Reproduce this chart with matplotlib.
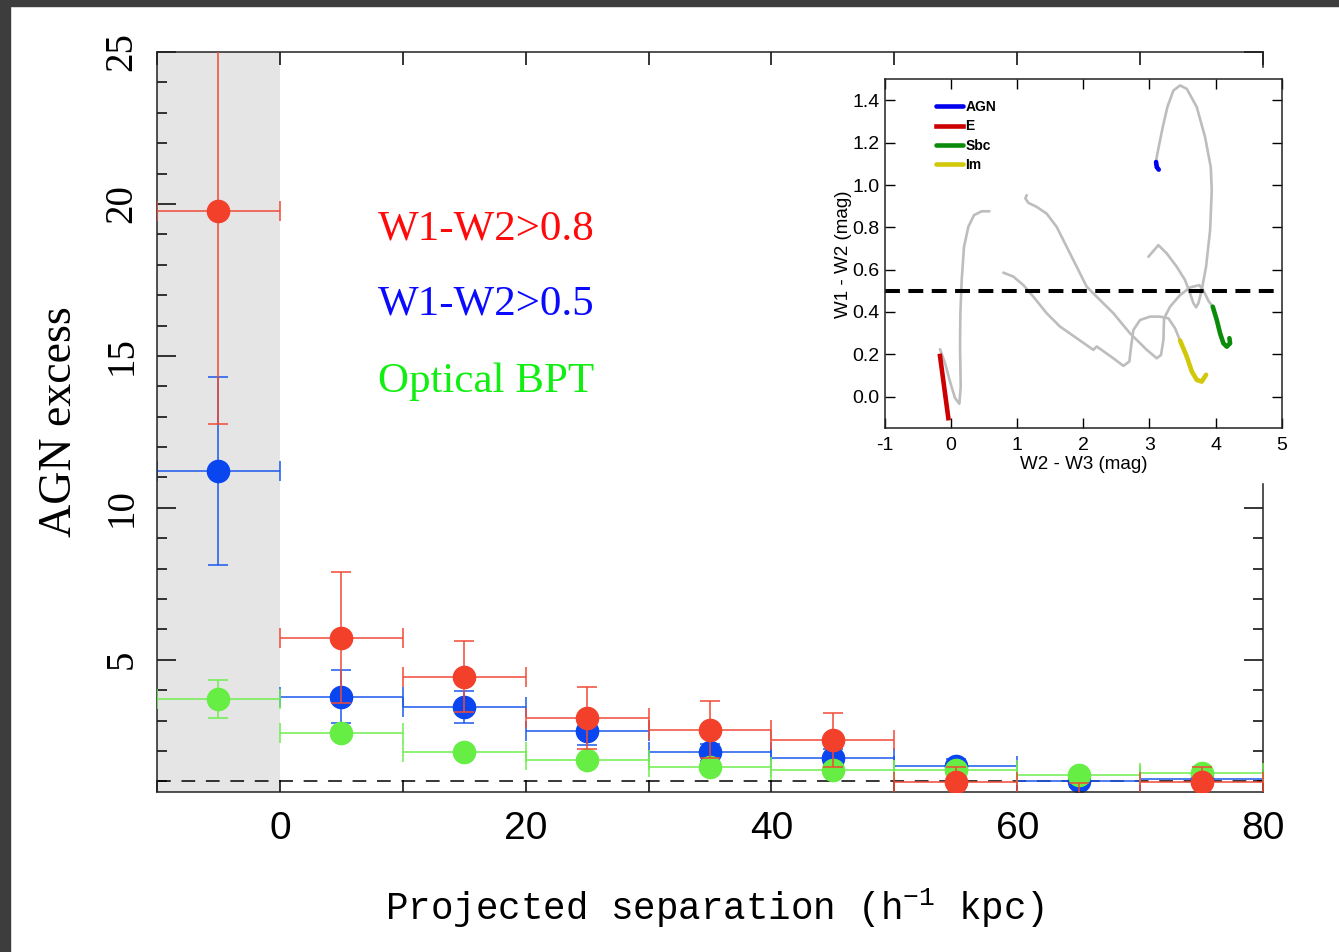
import numpy as np
import matplotlib
matplotlib.use("Agg")
import matplotlib.pyplot as plt
from matplotlib.patches import Rectangle

# main panel data (bin centres, AGN excess, errors)
sep = [-5, 5, 15, 25, 35, 45, 55, 65, 75]
bin_half = 5
red_y = [19.77, 5.73, 4.45, 3.07, 2.70, 2.37, 0.98, 0.25, 0.97]
red_err = [7.0, 2.15, 1.16, 1.02, 0.93, 0.89, 0.5, 0.7, 0.5]
blue_y = [11.22, 3.79, 3.44, 2.67, 1.95, 1.76, 1.52, 1.00, 1.07]
blue_err = [3.1, 0.87, 0.52, 0.47, 0.28, 0.3, 0.2, 0.2, 0.15]
green_y = [3.72, 2.60, 1.98, 1.70, 1.48, 1.36, 1.36, 1.20, 1.28]
green_err = [0.62, 0.15, 0.12, 0.12, 0.1, 0.1, 0.1, 0.1, 0.1]
legend_names = ["W1-W2>0.8", "W1-W2>0.5", "Optical BPT"]

# inset: colour-colour tracks (W2-W3, W1-W2)
trackE_x = [-0.168, -0.092, -0.017, 0.059, 0.125, 0.145, 0.135, 0.140, 0.160, 0.195, 0.261, 0.346, 0.462, 0.579]
trackE_y = [0.224, 0.158, 0.071, -0.007, -0.034, 0.048, 0.237, 0.394, 0.551, 0.708, 0.803, 0.858, 0.876, 0.876]
trackB_x = [1.143, 1.123, 1.168, 1.294, 1.445, 1.597, 1.748, 1.899, 2.051, 2.202, 2.454, 2.706, 2.959, 3.110,
            3.175, 3.211, 3.221, 3.312, 3.463, 3.614, 3.755, 3.826, 3.891, 3.957]
trackB_y = [0.952, 0.937, 0.916, 0.897, 0.865, 0.802, 0.708, 0.614, 0.519, 0.472, 0.394, 0.299, 0.221, 0.181,
            0.197, 0.268, 0.370, 0.425, 0.480, 0.516, 0.527, 0.496, 0.453, 0.425]
trackC_x = [0.790, 0.942, 1.093, 1.244, 1.445, 1.647, 1.899, 2.151, 2.202, 2.454, 2.606, 2.696, 2.722, 2.757,
            2.858, 3.009, 3.160, 3.286, 3.387, 3.463]
trackC_y = [0.586, 0.567, 0.527, 0.472, 0.394, 0.331, 0.276, 0.221, 0.237, 0.181, 0.145, 0.166, 0.236, 0.315,
            0.362, 0.378, 0.378, 0.370, 0.323, 0.265]
trackD_x = [2.984, 3.135, 3.261, 3.412, 3.538, 3.614, 3.665, 3.705, 3.740, 3.791, 3.856, 3.917, 3.942, 3.927,
            3.841, 3.715, 3.564, 3.463, 3.362, 3.271, 3.201, 3.150, 3.110, 3.100]
trackD_y = [0.661, 0.716, 0.677, 0.614, 0.551, 0.488, 0.441, 0.422, 0.441, 0.504, 0.614, 0.787, 0.975, 1.085,
            1.227, 1.369, 1.455, 1.471, 1.447, 1.369, 1.274, 1.196, 1.133, 1.109]
agn_x = [3.100, 3.110, 3.140]
agn_y = [1.109, 1.085, 1.073]
ell_x = [-0.168, -0.042]
ell_y = [0.192, -0.102]
sbc_x = [3.957, 4.018, 4.068, 4.118, 4.169, 4.219, 4.209]
sbc_y = [0.425, 0.362, 0.299, 0.252, 0.236, 0.252, 0.276]
im_x = [3.463, 3.564, 3.640, 3.715, 3.791, 3.856]
im_y = [0.265, 0.189, 0.119, 0.079, 0.071, 0.103]

fig = plt.figure(figsize=(13.39, 9.52), dpi=100)

# dark screenshot frame on top / left
fig.patches.append(Rectangle((0, 1 - 6 / 952), 1, 6 / 952, transform=fig.transFigure,
                             color="#3d3d3d", zorder=5))
fig.patches.append(Rectangle((0, 0), 10 / 1339, 1, transform=fig.transFigure,
                             color="#3d3d3d", zorder=5))

ax = fig.add_axes([0.11725, 0.16807, 0.82599, 0.77731])
ax.axvspan(-10, 0, color="#e5e5e5", lw=0, zorder=0)
ax.axhline(1.0, color="black", lw=1.1, dashes=(9, 7), zorder=1)

series = [("#0a46f0", "#1a58ee", blue_y, blue_err),
          ("#66ee44", "#6fee50", green_y, green_err),
          ("#f2402a", "#f04a36", red_y, red_err)]
# blue first, then green, red on top
for i, (mc, ec, yv, ye) in enumerate(series):
    ax.errorbar(sep, yv, xerr=bin_half, yerr=ye, fmt="o", ms=16, mfc=mc, mec=mc,
                ecolor=ec, elinewidth=1.1, capsize=7, capthick=1.1, zorder=2 + i)

ax.set_xlim(-10, 80)
ax.set_ylim(0.65, 25)
ax.set_xticks(np.arange(-10, 81, 10))
ax.set_xticklabels(["" if v % 20 else str(v) for v in range(-10, 81, 10)])
ax.set_yticks([5, 10, 15, 20, 25])
ax.set_yticks(np.arange(1, 26, 1), minor=True)
ax.tick_params(axis="x", which="major", direction="in", top=True, length=9, width=1.1,
               labelsize=28, pad=14)
ax.tick_params(axis="y", which="major", direction="in", right=True, length=14, width=1.1,
               labelsize=28, pad=12, labelrotation=90)
ax.tick_params(axis="y", which="minor", direction="in", right=True, length=7, width=1.1)
for lab in ax.get_xticklabels():
    lab.set_family("Liberation Sans")
for lab in ax.get_yticklabels():
    lab.set_family("Liberation Serif")
    lab.set_va("center")
for s in ax.spines.values():
    s.set_linewidth(1.1)
    s.set_color("#222222")

text_cols = ["#ff0a0a", "#0a0aff", "#11ee11"]
text_y = [0.746, 0.645, 0.541]
for name, c, ty in zip(legend_names, text_cols, text_y):
    ax.text(0.1998, ty, name, color=c, fontsize=31, family="Liberation Serif",
            transform=ax.transAxes, va="baseline", ha="left")

fig.text(60 / 1339, 1 - 422 / 952, "AGN excess", rotation=90, fontsize=33,
         family="Liberation Serif", ha="center", va="center")
plt.rcParams["mathtext.fontset"] = "custom"
plt.rcParams["mathtext.rm"] = "Liberation Mono"
plt.rcParams["mathtext.default"] = "rm"
fig.text(714 / 1339, 1 - 908 / 952, r"Projected separation (h$^{-1}$ kpc)", fontsize=27,
         family="Liberation Mono", ha="center", va="center")

# white box behind inset (hides part of main frame)
fig.patches.append(Rectangle((815 / 1339, 1 - 482 / 952), 1 - 815 / 1339, (482 - 68) / 952,
                             transform=fig.transFigure, color="white", zorder=1))

ins = fig.add_axes([0.66094, 0.5501, 0.29627, 0.3666], zorder=2)
grey = "#bdbdbd"
for tx, ty in [(trackE_x, trackE_y), (trackB_x, trackB_y), (trackC_x, trackC_y), (trackD_x, trackD_y)]:
    ins.plot(tx, ty, color=grey, lw=1.9, solid_capstyle="round", solid_joinstyle="round")
ins.axhline(0.5, color="black", lw=2.9, dashes=(3.7, 2.1))
ins.plot(agn_x, agn_y, color="#0000ee", lw=3.3, label="AGN", solid_capstyle="round")
ins.plot(ell_x, ell_y, color="#cc0000", lw=3.3, label="E")
ins.plot(sbc_x, sbc_y, color="#0a8c0a", lw=3.3, label="Sbc", solid_capstyle="round")
ins.plot(im_x, im_y, color="#d2c80a", lw=3.3, label="Im", solid_capstyle="round")
ins.set_xlim(-1, 5)
ins.set_ylim(-0.15, 1.5)
ins.set_xticks(np.arange(-1, 6, 1))
ins.set_xticklabels([str(v) for v in range(-1, 6)])
ins.set_yticks(np.arange(0, 1.41, 0.2))
ins.set_yticklabels([f"{v:.1f}" for v in np.arange(0, 1.41, 0.2)])
ins.tick_params(direction="in", top=True, right=True, length=7, width=1, labelsize=14)
ins.tick_params(axis="x", pad=6)
ins.tick_params(axis="y", pad=4)
for lab in ins.get_xticklabels() + ins.get_yticklabels():
    lab.set_family("Liberation Sans")
for s in ins.spines.values():
    s.set_linewidth(1.1)
    s.set_color("#222222")
ins.set_xlabel("W2 - W3 (mag)", fontsize=13.5, family="Liberation Sans", labelpad=2)
ins.set_ylabel("W1 - W2 (mag)", fontsize=13.5, family="Liberation Sans", labelpad=0)
ins.legend(loc="upper left", bbox_to_anchor=(0.112, 0.96), frameon=False,
           prop={"family": "Liberation Sans", "weight": "bold", "size": 10},
           handlelength=1.9, handletextpad=0.2, labelspacing=0.38, borderpad=0)

fig.savefig("out.png", dpi=100, facecolor="white")
